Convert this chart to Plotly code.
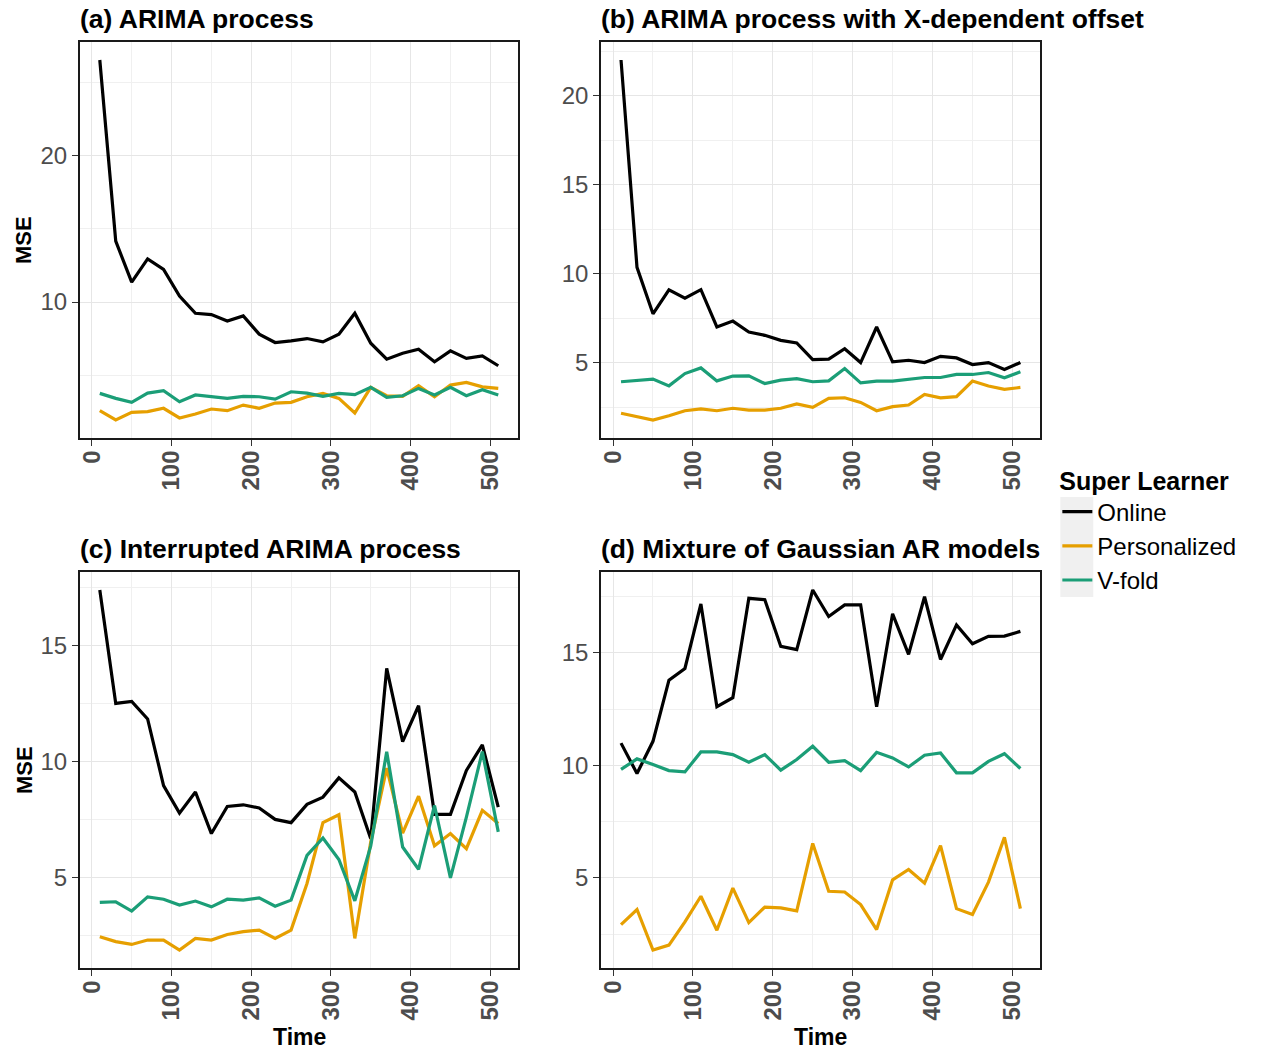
import plotly.graph_objects as go

time = [10 + 20 * i for i in range(26)]

a_online = [26.55, 14.16, 11.36, 12.95, 12.23, 10.41, 9.23, 9.14, 8.70, 9.05, 7.80, 7.23, 7.34,
            7.50, 7.27, 7.80, 9.23, 7.18, 6.09, 6.50, 6.77, 5.91, 6.66, 6.14, 6.32, 5.64]
a_pers = [2.57, 1.93, 2.45, 2.50, 2.73, 2.07, 2.34, 2.68, 2.57, 2.95, 2.73, 3.09, 3.14,
          3.52, 3.75, 3.41, 2.41, 4.16, 3.59, 3.55, 4.27, 3.52, 4.32, 4.50, 4.20, 4.09]
a_vfold = [3.75, 3.41, 3.14, 3.77, 3.93, 3.18, 3.64, 3.55, 3.41, 3.55, 3.52, 3.36, 3.86,
           3.77, 3.55, 3.75, 3.66, 4.16, 3.48, 3.59, 4.09, 3.64, 4.16, 3.59, 4.00, 3.64]

b_online = [22.01, 10.35, 7.74, 9.09, 8.62, 9.10, 7.00, 7.33, 6.72, 6.53, 6.25, 6.10, 5.17,
            5.19, 5.78, 5.00, 7.00, 5.04, 5.13, 5.00, 5.35, 5.26, 4.89, 5.00, 4.61, 5.00]
b_pers = [2.15, 1.96, 1.77, 2.01, 2.29, 2.39, 2.29, 2.43, 2.33, 2.33, 2.43, 2.67, 2.48,
          2.99, 3.02, 2.76, 2.29, 2.52, 2.61, 3.21, 3.02, 3.08, 3.96, 3.68, 3.49, 3.60]
b_vfold = [3.92, 4.01, 4.07, 3.69, 4.38, 4.70, 3.97, 4.24, 4.25, 3.82, 4.01, 4.10, 3.92,
           3.97, 4.66, 3.86, 3.96, 3.96, 4.07, 4.16, 4.16, 4.33, 4.33, 4.44, 4.14, 4.48]

c_online = [17.41, 12.52, 12.61, 11.85, 8.98, 7.79, 8.70, 6.91, 8.08, 8.15, 8.01, 7.52, 7.38,
            8.17, 8.48, 9.31, 8.70, 6.69, 14.03, 10.87, 12.42, 7.74, 7.74, 9.63, 10.73, 8.05]
c_pers = [2.46, 2.25, 2.13, 2.32, 2.32, 1.89, 2.39, 2.32, 2.56, 2.68, 2.75, 2.39, 2.75,
          4.76, 7.38, 7.72, 2.39, 6.55, 9.73, 6.93, 8.52, 6.38, 6.91, 6.26, 7.91, 7.34]
c_vfold = [3.94, 3.97, 3.57, 4.18, 4.08, 3.83, 4.00, 3.75, 4.08, 4.04, 4.14, 3.78, 4.04,
           5.97, 6.72, 5.79, 4.01, 6.38, 10.44, 6.33, 5.37, 8.12, 5.00, 7.62, 10.44, 6.98]

d_online = [10.99, 9.64, 11.07, 13.79, 14.31, 17.18, 12.61, 13.01, 17.43, 17.37, 15.29, 15.15, 17.80,
            16.62, 17.14, 17.14, 12.61, 16.74, 14.94, 17.50, 14.71, 16.25, 15.41, 15.74, 15.75, 15.96]
d_pers = [2.92, 3.59, 1.79, 2.01, 3.04, 4.18, 2.67, 4.54, 3.01, 3.70, 3.66, 3.53, 6.53,
          4.40, 4.37, 3.81, 2.70, 4.91, 5.37, 4.76, 6.43, 3.63, 3.37, 4.81, 6.80, 3.63]
d_vfold = [9.82, 10.29, 10.04, 9.77, 9.71, 10.60, 10.60, 10.48, 10.14, 10.48, 9.79, 10.26, 10.85,
           10.14, 10.21, 9.77, 10.58, 10.33, 9.93, 10.45, 10.55, 9.67, 9.67, 10.18, 10.52, 9.86]

panel_titles = ["(a) ARIMA process", "(b) ARIMA process with X-dependent offset",
                "(c) Interrupted ARIMA process", "(d) Mixture of Gaussian AR models"]
series_names = ["Online", "Personalized", "V-fold"]
series_colors = ["#000000", "#E69F00", "#1B9E77"]
y_dticks = [10, 5, 5, 5]
x_tickvals = [0, 100, 200, 300, 400, 500]

panels = [(a_online, a_pers, a_vfold), (b_online, b_pers, b_vfold),
          (c_online, c_pers, c_vfold), (d_online, d_pers, d_vfold)]

W, H = 1274, 1049


def px(x):
    return x / W


def py(y):
    return 1 - y / H


xdoms = [(px(78), px(517)), (px(600), px(1040))]
ydoms = [(py(438), py(42)), (py(968), py(572))]
title_y = [py(19), py(549)]

FONT = "Liberation Sans, Arial, sans-serif"
fig = go.Figure()
layout = {}
annotations = []


def expand(vals, mult=0.05):
    lo, hi = min(vals), max(vals)
    d = (hi - lo) * mult
    return [lo - d, hi + d]


xr = expand(time)

for k, data in enumerate(panels):
    row, col = k // 2, k % 2
    idx = "" if k == 0 else str(k + 1)
    for name, color, vals in zip(series_names, series_colors, data):
        fig.add_trace(go.Scatter(
            x=time, y=vals, mode="lines", name=name,
            line=dict(color=color, width=3.2),
            legendgroup=name, showlegend=(k == 0),
            xaxis="x" + idx, yaxis="y" + idx))
    allv = [v for s in data for v in s]
    layout["xaxis" + idx] = dict(
        domain=xdoms[col], anchor="y" + idx, range=xr,
        tickvals=x_tickvals, tickangle=-90,
        tickfont=dict(family=FONT, size=24, color="#4d4d4d", weight="bold"),
        ticklabelstandoff=-5,
        showgrid=True, gridcolor="#e6e6e6", gridwidth=1.3,
        minor=dict(dtick=50, tick0=0, showgrid=True, gridcolor="#f0f0f0", gridwidth=0.8),
        showline=True, linecolor="#1a1a1a", linewidth=1.8, mirror=True,
        ticks="outside", ticklen=6, tickcolor="#333333", tickwidth=1.3,
        zeroline=False,
    )
    dt = y_dticks[k]
    layout["yaxis" + idx] = dict(
        domain=ydoms[row], anchor="x" + idx, range=expand(allv),
        dtick=dt, tick0=0,
        tickfont=dict(family=FONT, size=24, color="#4d4d4d"),
        showgrid=True, gridcolor="#e6e6e6", gridwidth=1.3,
        minor=dict(dtick=dt / 2, tick0=0, showgrid=True, gridcolor="#f0f0f0", gridwidth=0.8),
        showline=True, linecolor="#1a1a1a", linewidth=1.8, mirror=True,
        ticks="outside", ticklen=6, tickcolor="#333333", tickwidth=1.3,
        zeroline=False,
    )
    annotations.append(dict(
        text="<b>" + panel_titles[k] + "</b>", xref="paper", yref="paper",
        x=xdoms[col][0] - 2 / W, y=title_y[row], xanchor="left", yanchor="middle",
        showarrow=False, font=dict(family=FONT, size=26.5, color="#000000")))
    if col == 0:
        annotations.append(dict(
            text="<b>MSE</b>", xref="paper", yref="paper", textangle=-90,
            x=px(22), y=(ydoms[row][0] + ydoms[row][1]) / 2, xanchor="center", yanchor="middle",
            showarrow=False, font=dict(family=FONT, size=22, color="#000000")))
    if row == 1:
        annotations.append(dict(
            text="<b>Time</b>", xref="paper", yref="paper",
            x=(xdoms[col][0] + xdoms[col][1]) / 2, y=py(1037), xanchor="center", yanchor="middle",
            showarrow=False, font=dict(family=FONT, size=23, color="#000000")))

fig.update_layout(
    width=W, height=H,
    margin=dict(l=0, r=0, t=0, b=0),
    paper_bgcolor="white", plot_bgcolor="white",
    annotations=annotations,
    shapes=[dict(type="rect", xref="paper", yref="paper", layer="below",
                 x0=px(1060), x1=px(1093), y0=py(597), y1=py(497),
                 fillcolor="#f0f0f0", line=dict(width=0))],
    legend=dict(
        title=dict(text="<b>Super Learner</b>", font=dict(family=FONT, size=25, color="#000000")),
        font=dict(family=FONT, size=24, color="#000000"),
        x=px(1057), y=py(457), xanchor="left", yanchor="top",
        bgcolor="rgba(0,0,0,0)", tracegroupgap=0, itemwidth=30,
    ),
    **layout,
)

fig.write_html("out.html", config={"displayModeBar": False},
               post_script="document.body.style.margin='0';")
